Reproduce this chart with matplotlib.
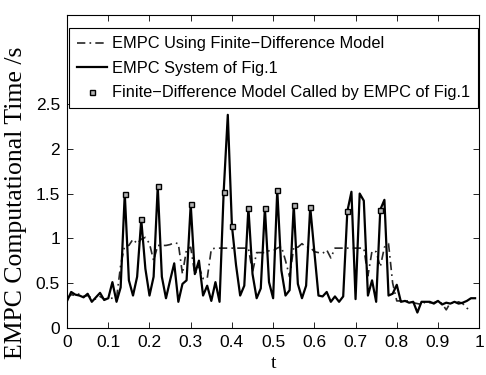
import matplotlib
matplotlib.use("Agg")

import numpy as np
import matplotlib.pyplot as plt

# Sample times (uniform step of 0.01)
t = np.arange(100) / 100.0

# EMPC System of Fig.1 (solid)
empc_system = [
    0.30, 0.40, 0.37, 0.36, 0.34, 0.38, 0.29, 0.34, 0.39, 0.31,
    0.33, 0.51, 0.29, 0.45, 1.50, 0.53, 0.36, 0.57, 1.21, 0.66,
    0.36, 0.57, 1.58, 0.57, 0.33, 0.53, 0.72, 0.29, 0.49, 0.53,
    1.38, 0.60, 0.75, 0.36, 0.47, 0.30, 0.51, 0.29, 1.52, 2.38,
    1.14, 0.70, 0.36, 0.47, 1.34, 0.60, 0.33, 0.44, 1.34, 0.51,
    0.33, 1.54, 0.64, 0.36, 0.42, 1.37, 0.49, 0.33, 0.47, 1.35,
    0.85, 0.36, 0.35, 0.40, 0.29, 0.35, 0.29, 0.35, 1.30, 1.52,
    0.32, 1.50, 1.42, 0.36, 0.53, 0.29, 1.32, 1.43, 0.36, 0.38,
    0.48, 0.29, 0.30, 0.28, 0.29, 0.17, 0.29, 0.29, 0.29, 0.27,
    0.30, 0.26, 0.28, 0.27, 0.29, 0.27, 0.28, 0.30, 0.33, 0.33,
]

# EMPC Using Finite-Difference Model (dash-dot), ends at t = 0.98
empc_fd = [
    0.33, 0.37, 0.36, 0.38, 0.35, 0.36, 0.33, 0.32, 0.35, 0.32,
    0.33, 0.33, 0.33, 0.70, 0.92, 0.92, 0.99, 0.94, 0.99, 1.01,
    0.94, 0.75, 0.92, 0.92, 0.92, 0.93, 0.95, 0.94, 0.60, 0.88,
    0.90, 0.60, 0.68, 0.55, 0.55, 0.88, 0.89, 0.89, 0.89, 0.89,
    0.89, 0.89, 0.89, 0.89, 0.89, 0.62, 0.84, 0.84, 0.84, 0.86,
    0.86, 0.89, 0.91, 0.75, 0.57, 0.90, 0.90, 0.94, 0.90, 0.90,
    0.85, 0.84, 0.83, 0.87, 0.78, 0.89, 0.89, 0.89, 0.89, 0.89,
    0.89, 0.89, 0.89, 0.58, 0.86, 0.85, 0.68, 0.90, 0.94, 0.50,
    0.30, 0.30, 0.30, 0.30, 0.28, 0.27, 0.26, 0.29, 0.28, 0.28,
    0.30, 0.27, 0.20, 0.28, 0.27, 0.29, 0.27, 0.22, 0.19,
]

# Times where the finite-difference model was called by EMPC of Fig.1
fd_called_t = [0.14, 0.18, 0.22, 0.30, 0.38, 0.40, 0.44, 0.48, 0.51, 0.55, 0.59, 0.68, 0.76]

legend_labels = ["EMPC Using Finite\u2212Difference Model",
                 "EMPC System of Fig.1",
                 "Finite\u2212Difference Model Called by EMPC of Fig.1"]

plt.rcParams["font.family"] = ["Liberation Sans", "DejaVu Sans"]

fig = plt.figure(figsize=(4.86, 3.75), dpi=100)
ax = fig.add_axes([0.138, 0.126, 0.848, 0.835])

idx = np.searchsorted(t, np.array(fd_called_t) - 1e-9)
called_vals = np.array(empc_system)[idx]

ax.plot(t[:len(empc_fd)], empc_fd, color="0.15", linestyle=(0, (5, 2.5, 1, 2.5)),
        linewidth=1.2, label=legend_labels[0])
ax.plot(t, empc_system, color="k", linestyle="-", linewidth=1.6,
        label=legend_labels[1])
ax.plot(fd_called_t, called_vals, linestyle="none", marker="s", markersize=3.6,
        markerfacecolor="0.7", markeredgecolor="k", markeredgewidth=1.0,
        label=legend_labels[2])

ax.set_xlim(0, 1)
ax.set_ylim(0, 3.5)
ax.set_xticks(np.arange(0, 11) / 10.0)
ax.set_xticklabels(["0", "0.1", "0.2", "0.3", "0.4", "0.5", "0.6", "0.7", "0.8", "0.9", "1"])
ax.set_yticks([0, 0.5, 1, 1.5, 2, 2.5])
ax.set_yticklabels(["0", "0.5", "1", "1.5", "2", "2.5"])
ax.tick_params(direction="in", top=True, right=True, labelsize=12.5, length=4, width=0.6, pad=5)
for sp in ax.spines.values():
    sp.set_linewidth(0.8)

ax.set_xlabel("t", family="Liberation Serif", fontsize=14, labelpad=4)
ax.set_ylabel("EMPC Computational Time /s", family="Liberation Serif", fontsize=18.5)
ax.yaxis.set_label_coords(-0.098, 0.40)

leg = ax.legend(loc="upper left", bbox_to_anchor=(0.005, 0.957), borderaxespad=0,
                fontsize=11.8, frameon=True, fancybox=False, framealpha=1,
                edgecolor="k", handlelength=1.8, handletextpad=0.3,
                labelspacing=0.58, borderpad=0.5)
leg.get_frame().set_linewidth(0.8)

fig.savefig("out.png", dpi=100)
